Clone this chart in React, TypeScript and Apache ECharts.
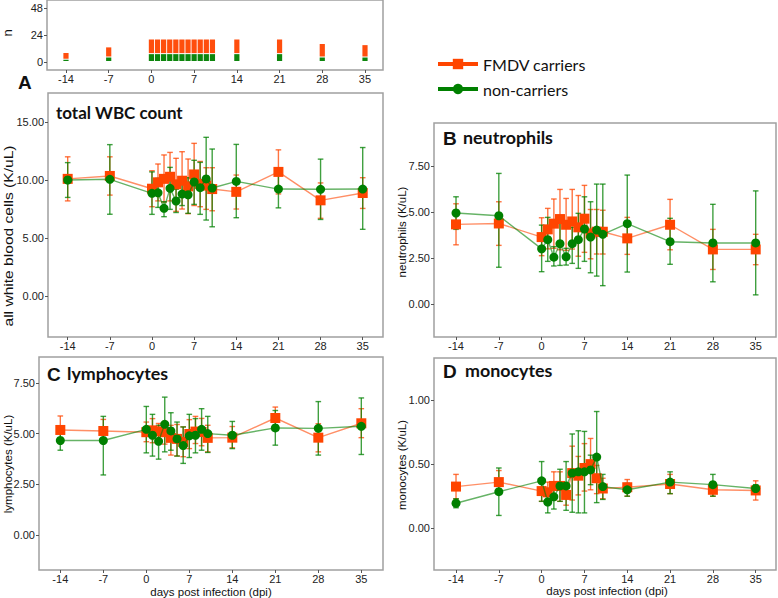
import React, { useEffect, useRef } from 'react';
import * as echarts from 'echarts';

// ---------- data ----------
const days = [-14, -7, 0, 1, 2, 3, 4, 5, 6, 7, 8, 9, 10, 14, 21, 28, 35];
const xTicks = [-14, -7, 0, 7, 14, 21, 28, 35];

// animal counts (top panel)
const nCarriers = [6, 9, 13, 13, 13, 13, 13, 13, 13, 13, 13, 13, 13, 13, 13, 12, 11];
const nNonCarriers = [2, 4, 7, 7, 7, 7, 7, 7, 7, 7, 7, 7, 7, 7, 7, 4, 4];

// A total WBC
const wbcCar = [10.1, 10.35, 9.25, 9.8, 10.1, 10.28, 9.63, 9.94, 9.45, 10.48, 9.66, 9.52, 9.22, 8.98, 10.7, 8.25, 8.88];
const wbcCarLo = [8.2, 8.7, 7.7, 8.2, 8.1, 8.2, 7.3, 7.5, 7.1, 7.8, 7.7, 7.47, 7.35, 7.5, 8.8, 6.7, 7.55];
const wbcCarHi = [12.0, 12.0, 10.8, 11.38, 12.16, 12.38, 11.87, 12.44, 11.81, 13.16, 11.6, 11.06, 11.06, 10.43, 12.6, 9.75, 10.2];
const wbcNon = [10.0, 10.06, 8.85, 8.9, 7.56, 9.28, 8.19, 8.79, 8.73, 9.83, 9.34, 10.09, 9.31, 9.88, 9.22, 9.2, 9.22];
const wbcNonLo = [8.5, 7.05, 7.04, 7.64, 6.84, 7.47, 7.2, 7.8, 7.13, 7.9, 7.04, 6.55, 5.97, 6.75, 7.6, 6.6, 5.75];
const wbcNonHi = [11.5, 13.05, 10.7, 10.14, 8.13, 11.09, 9.2, 9.7, 10.2, 11.7, 11.52, 13.68, 12.67, 13.07, 10.9, 11.8, 12.8];

// B neutrophils
const neuCar = [4.33, 4.38, 3.64, 4.06, 4.37, 4.62, 4.31, 4.49, 4.17, 4.64, 3.84, 3.93, 3.93, 3.57, 4.31, 2.97, 2.97];
const neuCarLo = [3.22, 3.19, 2.63, 3.0, 3.03, 2.95, 2.92, 2.99, 2.6, 2.81, 2.46, 2.72, 2.72, 2.7, 2.95, 1.88, 2.14];
const neuCarHi = [5.45, 5.56, 4.69, 5.2, 5.71, 6.23, 5.74, 6.23, 5.9, 6.45, 5.14, 5.14, 5.1, 4.71, 5.69, 4.06, 3.79];
const neuNon = [4.95, 4.8, 3.0, 3.5, 2.55, 3.28, 2.57, 3.28, 3.5, 4.08, 3.64, 4.02, 3.79, 4.37, 3.39, 3.32, 3.32];
const neuNonLo = [4.06, 2.0, 1.76, 2.32, 2.07, 2.1, 2.12, 2.21, 1.94, 2.32, 1.7, 1.52, 1.0, 1.74, 2.16, 1.21, 0.5];
const neuNonHi = [5.83, 7.1, 4.29, 4.71, 3.12, 4.53, 3.03, 4.17, 4.93, 5.83, 5.56, 6.52, 6.52, 7.01, 4.66, 5.42, 6.15];

// C lymphocytes
const lymCar = [5.18, 5.13, 5.07, 5.16, 5.11, 5.07, 4.79, 4.74, 4.59, 4.98, 5.1, 5.08, 4.79, 4.8, 5.77, 4.8, 5.51];
const lymCarLo = [4.67, 4.59, 4.6, 4.55, 4.6, 4.48, 3.94, 3.9, 3.86, 4.26, 4.51, 4.4, 4.1, 4.3, 5.2, 4.1, 4.8];
const lymCarHi = [5.87, 5.7, 5.57, 5.74, 5.5, 5.6, 5.41, 5.45, 5.33, 5.69, 5.85, 5.75, 5.41, 5.35, 6.31, 5.49, 6.23];
const lymNon = [4.66, 4.66, 5.21, 4.92, 4.62, 5.46, 5.13, 4.74, 4.41, 4.89, 4.92, 5.21, 5.0, 4.92, 5.28, 5.26, 5.36];
const lymNonLo = [4.18, 2.96, 4.05, 3.89, 3.74, 4.1, 4.18, 3.89, 3.53, 3.82, 4.05, 4.18, 4.07, 4.26, 4.43, 3.94, 3.97];
const lymNonHi = [5.11, 5.85, 6.34, 5.95, 5.41, 6.8, 6.03, 5.57, 5.33, 5.95, 5.74, 6.23, 5.85, 5.6, 6.14, 6.58, 6.76];

// D monocytes
const monCar = [0.325, 0.36, 0.29, 0.28, 0.33, 0.33, 0.26, 0.43, 0.41, 0.47, 0.5, 0.39, 0.31, 0.32, 0.345, 0.3, 0.295];
const monCarLo = [0.23, 0.27, 0.21, 0.19, 0.22, 0.21, 0.18, 0.22, 0.26, 0.29, 0.3, 0.27, 0.23, 0.25, 0.27, 0.25, 0.22];
const monCarHi = [0.42, 0.45, 0.37, 0.36, 0.44, 0.44, 0.33, 0.64, 0.56, 0.66, 0.7, 0.49, 0.39, 0.38, 0.42, 0.35, 0.37];
const monNon = [0.195, 0.285, 0.37, 0.205, 0.245, 0.33, 0.33, 0.43, 0.44, 0.44, 0.455, 0.555, 0.325, 0.3, 0.36, 0.34, 0.31];
const monNonLo = [0.16, 0.1, 0.21, 0.12, 0.15, 0.21, 0.14, 0.125, 0.12, 0.12, 0.34, 0.2, 0.225, 0.25, 0.27, 0.25, 0.27];
const monNonHi = [0.23, 0.47, 0.52, 0.31, 0.32, 0.46, 0.52, 0.735, 0.76, 0.755, 0.57, 0.91, 0.42, 0.35, 0.44, 0.42, 0.34];

const nTicks = [0, 24, 48];
const wbcTicks = [0, 5, 10, 15];
const neuTicks = [0, 2.5, 5, 7.5];
const lymTicks = [0, 2.5, 5, 7.5];
const monTicks = [0, 0.5, 1];

const ORANGE = '#FF4500';
const GREEN = '#008000';
const CAR = 'FMDV carriers';
const NON = 'non-carriers';

const pts = (vals: number[]) => days.map((d, i) => [d, vals[i]]);
const errPts = (lo: number[], hi: number[]) => days.map((d, i) => [d, lo[i], hi[i]]);

function errRender(color: string) {
  return (_p: any, api: any) => {
    const x = api.value(0);
    const lo = api.coord([x, api.value(1)]);
    const hi = api.coord([x, api.value(2)]);
    const w = 2.8;
    const style = { stroke: color, lineWidth: 1.4, opacity: 0.75 };
    return {
      type: 'group',
      children: [
        { type: 'line', shape: { x1: lo[0], y1: lo[1], x2: hi[0], y2: hi[1] }, style },
        { type: 'line', shape: { x1: lo[0] - w, y1: lo[1], x2: lo[0] + w, y2: lo[1] }, style },
        { type: 'line', shape: { x1: hi[0] - w, y1: hi[1], x2: hi[0] + w, y2: hi[1] }, style },
      ],
    };
  };
}

function barRender(color: string) {
  return (_p: any, api: any) => {
    const x = api.value(0);
    const a = api.coord([x, api.value(1)]);
    const b = api.coord([x, api.value(2)]);
    return {
      type: 'rect',
      shape: { x: a[0] - 2.6, y: b[1], width: 5.2, height: Math.max(0, a[1] - b[1] - 1) },
      style: { fill: color, opacity: 0.95 },
    };
  };
}

const AXIS_FONT = '"Liberation Sans", Arial, sans-serif';
const TITLE_FONT = 'Lato, "Open Sans", sans-serif';

export default function App() {
  const ref = useRef<HTMLDivElement>(null);
  useEffect(() => {
    const chart = echarts.init(ref.current!, null, { renderer: 'svg' });

    const gridDefs = [
      { left: 47, top: 0, width: 336, height: 70, xmin: -17.11, xmax: 37.95, ymin: -7.1, ymax: 55.1, ticks: nTicks, dec: 0 },
      { left: 48, top: 93, width: 335, height: 244, xmin: -17.27, xmax: 38.37, ymin: -3.53, ymax: 17.5, ticks: wbcTicks, dec: 2 },
      { left: 434, top: 123, width: 342, height: 214, xmin: -17.6, xmax: 38.32, ymin: -1.79, ymax: 9.84, ticks: neuTicks, dec: 2 },
      { left: 39, top: 357, width: 344, height: 213, xmin: -17.47, xmax: 38.53, ymin: -1.73, ymax: 8.78, ticks: lymTicks, dec: 2 },
      { left: 434, top: 358, width: 342, height: 212, xmin: -17.6, xmax: 38.32, ymin: -0.325, ymax: 1.327, ticks: monTicks, dec: 2 },
    ];

    const grid = gridDefs.map((g) => ({
      left: g.left, top: g.top, width: g.width, height: g.height,
      show: true, borderColor: '#a0a0a0', borderWidth: 1.5, backgroundColor: 'transparent',
      containLabel: false,
    }));

    const xAxis = gridDefs.map((g, i) => ({
      gridIndex: i, type: 'value', min: g.xmin, max: g.xmax,
      axisLine: { show: false, onZero: false },
      splitLine: { show: false },
      axisTick: { show: true, customValues: xTicks, length: 3, lineStyle: { color: '#555', width: 1 } },
      axisLabel: { customValues: xTicks, fontSize: 11, color: '#222', margin: 3, fontFamily: AXIS_FONT },
    }));

    const yAxis = gridDefs.map((g, i) => ({
      gridIndex: i, type: 'value', min: g.ymin, max: g.ymax,
      axisLine: { show: false, onZero: false },
      splitLine: { show: false },
      axisTick: { show: true, customValues: g.ticks, length: 3, lineStyle: { color: '#555', width: 1 } },
      axisLabel: {
        customValues: g.ticks, fontSize: 11, color: '#222', margin: 4, fontFamily: AXIS_FONT,
        formatter: (v: number) => v.toFixed(g.dec),
      },
    }));

    const panels = [
      { car: wbcCar, carLo: wbcCarLo, carHi: wbcCarHi, non: wbcNon, nonLo: wbcNonLo, nonHi: wbcNonHi },
      { car: neuCar, carLo: neuCarLo, carHi: neuCarHi, non: neuNon, nonLo: neuNonLo, nonHi: neuNonHi },
      { car: lymCar, carLo: lymCarLo, carHi: lymCarHi, non: lymNon, nonLo: lymNonLo, nonHi: lymNonHi },
      { car: monCar, carLo: monCarLo, carHi: monCarHi, non: monNon, nonLo: monNonLo, nonHi: monNonHi },
    ];

    const series: any[] = [];

    panels.forEach((p, k) => {
      const ax = k + 1;
      series.push({
        type: 'line', name: CAR, xAxisIndex: ax, yAxisIndex: ax, data: pts(p.car), z: 3,
        symbol: 'rect', symbolSize: 10, itemStyle: { color: ORANGE },
        lineStyle: { color: ORANGE, width: 1.4, opacity: 0.6 },
      });
      series.push({
        type: 'line', name: NON, xAxisIndex: ax, yAxisIndex: ax, data: pts(p.non), z: 4,
        symbol: 'circle', symbolSize: 9, itemStyle: { color: GREEN },
        lineStyle: { color: GREEN, width: 1.4, opacity: 0.6 },
      });
      series.push({
        type: 'custom', name: 'err-car-' + k, xAxisIndex: ax, yAxisIndex: ax, z: 2,
        data: errPts(p.carLo, p.carHi), encode: { x: 0, y: [1, 2] },
        renderItem: errRender(ORANGE), silent: true,
      });
      series.push({
        type: 'custom', name: 'err-non-' + k, xAxisIndex: ax, yAxisIndex: ax, z: 2,
        data: errPts(p.nonLo, p.nonHi), encode: { x: 0, y: [1, 2] },
        renderItem: errRender(GREEN), silent: true,
      });
    });

    series.push({
      type: 'custom', name: 'n-non', xAxisIndex: 0, yAxisIndex: 0,
      data: days.map((d, i) => [d, 0, nNonCarriers[i]]), encode: { x: 0, y: [1, 2] },
      renderItem: barRender(GREEN), silent: true,
    });
    series.push({
      type: 'custom', name: 'n-car', xAxisIndex: 0, yAxisIndex: 0,
      data: days.map((d, i) => [d, nNonCarriers[i], nNonCarriers[i] + nCarriers[i]]), encode: { x: 0, y: [1, 2] },
      renderItem: barRender(ORANGE), silent: true,
    });

    const txt = (text: string, x: number, y: number, font: string, extra: any = {}) => {
      const { align, ...rest } = extra;
      return {
        type: 'text', x, y, silent: true, ...rest,
        style: {
          text, font, fill: '#111',
          textAlign: align || 'left', align: align || 'left',
          textVerticalAlign: 'middle', verticalAlign: 'middle',
        },
      };
    };
    const vtxt = (text: string, x: number, y: number, size: number, stretch = 1) => ({
      type: 'text', x, y, rotation: Math.PI / 2, scaleX: stretch, silent: true,
      style: {
        text, font: `${size}px ${AXIS_FONT}`, fill: '#111',
        textAlign: 'center', align: 'center', textVerticalAlign: 'middle', verticalAlign: 'middle',
      },
    });

    const graphic = [
      txt('A', 18, 82, `bold 19px ${AXIS_FONT}`),
      txt('total WBC count', 56, 112, `bold 17px ${TITLE_FONT}`, { scaleX: 1.0 }),
      txt('B', 443, 138, `bold 19px ${AXIS_FONT}`),
      txt('neutrophils', 463, 138, `bold 17px ${TITLE_FONT}`, { scaleX: 1.05 }),
      txt('C', 47, 374, `bold 19px ${AXIS_FONT}`),
      txt('lymphocytes', 67, 374, `bold 17px ${TITLE_FONT}`, { scaleX: 1.05 }),
      txt('D', 443, 371, `bold 19px ${AXIS_FONT}`),
      txt('monocytes', 465, 371, `bold 17px ${TITLE_FONT}`, { scaleX: 1.05 }),
      vtxt('n', 7, 33, 13),
      vtxt('all white blood cells (K/uL)', 8, 236, 13, 1.2),
      vtxt('neutrophils (K/uL)', 402, 232, 11.5),
      vtxt('lymphocytes (K/uL)', 8, 464, 11.5),
      vtxt('monocytes (K/uL)', 402, 465, 11.5),
      txt('days post infection (dpi)', 211, 592, `11.5px ${AXIS_FONT}`, { align: 'center' }),
      txt('days post infection (dpi)', 607, 591, `11.5px ${AXIS_FONT}`, { align: 'center' }),
    ];

    chart.setOption({
      animation: false,
      backgroundColor: '#ffffff',
      grid, xAxis, yAxis, series, graphic,
      legend: {
        data: [CAR, NON], orient: 'vertical', left: 431, top: 51,
        itemWidth: 40, itemHeight: 13, itemGap: 9,
        lineStyle: { width: 4, opacity: 1 },
        textStyle: { fontFamily: TITLE_FONT, fontSize: 16, color: '#111' },
        selectedMode: false,
      },
    });
    return () => chart.dispose();
  }, []);
  return (
    <div
      ref={ref}
      style={{ position: 'fixed', left: 0, top: 0, width: 778, height: 598, background: '#fff' }}
    />
  );
}
